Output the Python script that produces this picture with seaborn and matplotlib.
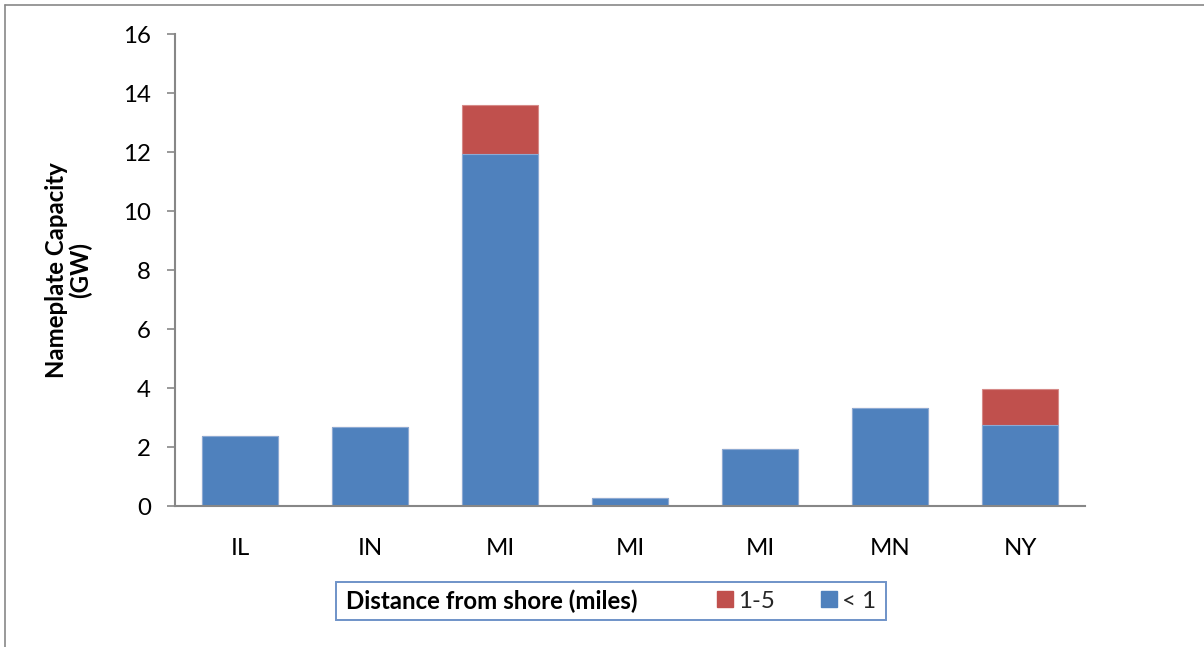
import matplotlib
matplotlib.use("Agg")
import matplotlib.pyplot as plt
from matplotlib.patches import Rectangle, Patch
from matplotlib.lines import Line2D
import seaborn as sns
import pandas as pd

# Shoreline sites and their nameplate capacity (GW) by distance band
sites = ["IL", "IN", "MI-a", "MI-b", "MI-c", "MN", "NY"]
states = ["IL", "IN", "MI", "MI", "MI", "MN", "NY"]
under_1 = [2.37, 2.68, 11.92, 0.27, 1.92, 3.33, 2.75]
band_1_5 = [0.0, 0.0, 1.68, 0.0, 0.0, 0.0, 1.23]
y_ticks = [0, 2, 4, 6, 8, 10, 12, 14, 16]

legend_title = "Distance from shore (miles)"
series_labels = ["1-5", "< 1"]

BLUE = "#4F81BD"
RED = "#C0504D"
GRAY = "#878787"
FS = 17.3

sns.set_theme(style="white")
plt.rcParams["font.family"] = ["Lato", "DejaVu Sans"]

df = pd.DataFrame({
    "site": sites,
    "under_1": under_1,
    "total": [a + b for a, b in zip(under_1, band_1_5)],
})

fig = plt.figure(figsize=(12.04, 6.47), dpi=100)
ax = fig.add_axes([0.1453, 0.2179, 0.7559, 0.7295])

# Stacked bars: full height in red, then the < 1 mile part drawn over it
sns.barplot(data=df, x="site", y="total", order=sites, color=RED,
            saturation=1, width=0.58, edgecolor="#D68A88", linewidth=0.8, ax=ax)
sns.barplot(data=df, x="site", y="under_1", order=sites, color=BLUE,
            saturation=1, width=0.58, edgecolor="#8DAAD3", linewidth=0.8, ax=ax)

ax.set_xlim(-0.5, len(sites) - 0.5)
ax.set_ylim(0, 16)
ax.set_yticks(y_ticks)
ax.set_yticklabels([str(t) for t in y_ticks], fontsize=FS, color="black")
ax.set_xticks(range(len(sites)))
ax.set_xticklabels(states, fontsize=FS, color="black")
ax.set_xlabel("")
ax.set_ylabel("Nameplate Capacity\n(GW)", fontsize=FS, fontweight="bold",
              color="black", linespacing=1.05)
ax.yaxis.set_label_coords(-0.091, 0.5)

for side in ["top", "right"]:
    ax.spines[side].set_visible(False)
for side in ["left", "bottom"]:
    ax.spines[side].set_color(GRAY)
    ax.spines[side].set_linewidth(1.5)

ax.tick_params(axis="y", which="major", left=True, length=5.5, width=1.2,
               color=GRAY, pad=12, direction="out")
ax.tick_params(axis="x", which="major", bottom=False, length=0, pad=23)

# Legend frame with a bold title on the left
box = Rectangle((0.2791, 0.0417), 0.4568, 0.0587, transform=fig.transFigure,
                fill=False, edgecolor="#6F93C8", linewidth=1.4)
fig.add_artist(box)
fig.text(0.2874, 0.0710, legend_title, fontsize=FS, fontweight="bold",
         va="center", ha="left", color="black")
handles = [Patch(facecolor=RED, edgecolor=RED), Patch(facecolor=BLUE, edgecolor=BLUE)]
fig.legend(handles, series_labels, loc="center left", bbox_to_anchor=(0.5955, 0.0710),
           ncol=2, frameon=False, fontsize=FS, handlelength=0.68, handleheight=0.68,
           handletextpad=0.2, columnspacing=1.9, borderpad=0, borderaxespad=0)

# Outer chart border (left and top edges)
fig.add_artist(Line2D([0.0042, 0.0042], [0.0, 0.9923], transform=fig.transFigure,
                      color=GRAY, linewidth=1.2))
fig.add_artist(Line2D([0.0042, 1.0], [0.9923, 0.9923], transform=fig.transFigure,
                      color=GRAY, linewidth=1.2))

fig.savefig("out.png", dpi=100)
